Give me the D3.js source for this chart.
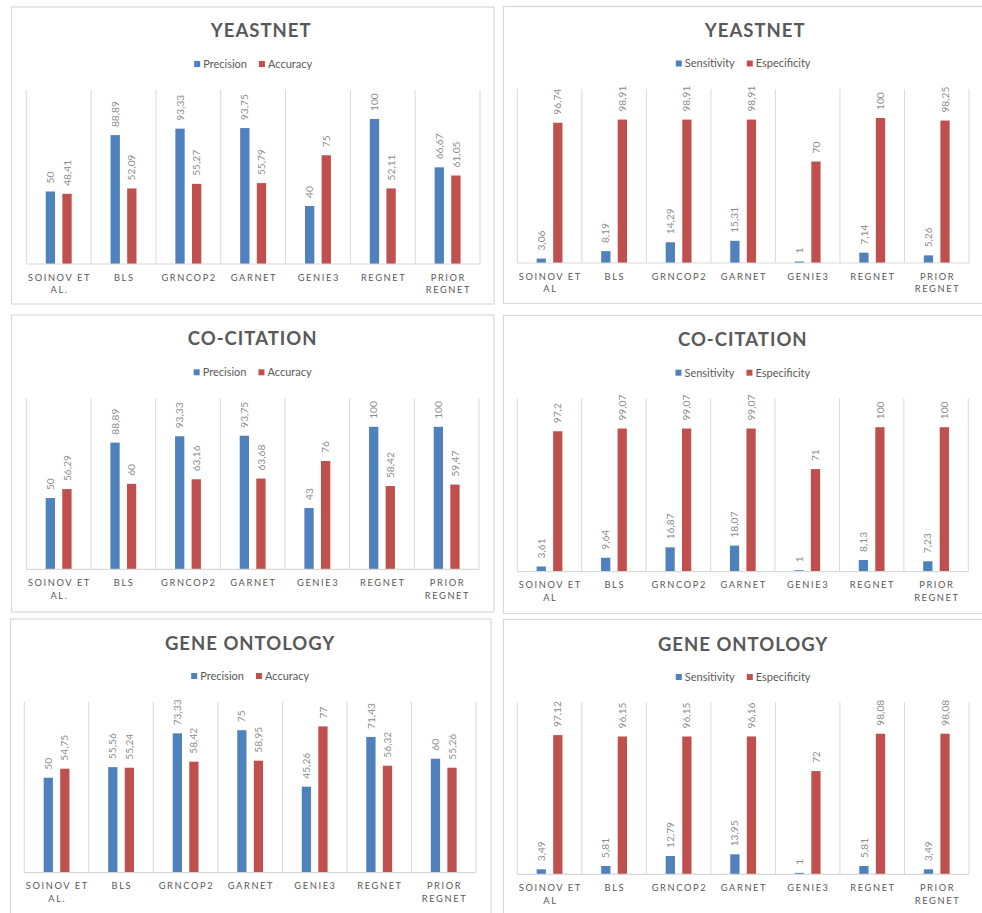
<!DOCTYPE html>
<html>
<head>
<meta charset="utf-8">
<script src="https://cdn.jsdelivr.net/npm/d3@7"></script>
<style>
  html, body { margin: 0; padding: 0; background: #ffffff; }
  svg { display: block; }
</style>
</head>
<body>
<svg id="chart" width="982" height="913"></svg>
<script>
// ---- data -------------------------------------------------------------
const categoriesLeft  = ["SOINOV ET\nAL.", "BLS", "GRNCOP2", "GARNET", "GENIE3", "REGNET", "PRIOR\nREGNET"];
const categoriesRight = ["SOINOV ET\nAL", "BLS", "GRNCOP2", "GARNET", "GENIE3", "REGNET", "PRIOR\nREGNET"];

const seriesLeft  = ["Precision", "Accuracy"];
const seriesRight = ["Sensitivity", "Especificity"];

const yeastPrecision   = [50, 88.89, 93.33, 93.75, 40, 100, 66.67];
const yeastAccuracy    = [48.41, 52.09, 55.27, 55.79, 75, 52.11, 61.05];
const yeastSensitivity = [3.06, 8.19, 14.29, 15.31, 1, 7.14, 5.26];
const yeastSpecificity = [96.74, 98.91, 98.91, 98.91, 70, 100, 98.25];

const coPrecision   = [50, 88.89, 93.33, 93.75, 43, 100, 100];
const coAccuracy    = [56.29, 60, 63.16, 63.68, 76, 58.42, 59.47];
const coSensitivity = [3.61, 9.64, 16.87, 18.07, 1, 8.13, 7.23];
const coSpecificity = [97.2, 99.07, 99.07, 99.07, 71, 100, 100];

const goPrecision   = [50, 55.56, 73.33, 75, 45.26, 71.43, 60];
const goAccuracy    = [54.75, 55.24, 58.42, 58.95, 77, 56.32, 55.26];
const goSensitivity = [3.49, 5.81, 12.79, 13.95, 1, 5.81, 3.49];
const goSpecificity = [97.12, 96.15, 96.15, 96.16, 72, 98.08, 98.08];

const titles  = ["YEASTNET", "YEASTNET", "CO-CITATION", "CO-CITATION", "GENE ONTOLOGY", "GENE ONTOLOGY"];
const axisMax = [120, 120, 120, 120, 90, 120];

// ---- panel layout -------------------------------------------------------
const colors = ["#4f81bd", "#c0504d"];
const panels = [
  { box: [11.5, 7, 482.5, 297],   plot: [26.3, 90, 453.7, 174],    titleY: 37,    legendY: 64,    titleDx: 8,
    cats: categoriesLeft,  series: seriesLeft,  values: [yeastPrecision, yeastAccuracy] },
  { box: [503.5, 6.5, 490, 297],  plot: [517.3, 89, 451.7, 174],   titleY: 37,    legendY: 63.5,  titleDx: 12,
    cats: categoriesRight, series: seriesRight, values: [yeastSensitivity, yeastSpecificity] },
  { box: [11.5, 315, 482.5, 297], plot: [26.3, 398.3, 452.7, 171], titleY: 345,   legendY: 372.3, titleDx: 0,
    cats: categoriesLeft,  series: seriesLeft,  values: [coPrecision, coAccuracy] },
  { box: [503.5, 315.5, 490, 298],plot: [517.3, 398.3, 451, 173.4],titleY: 345.7, legendY: 372.7, titleDx: 0,
    cats: categoriesRight, series: seriesRight, values: [coSensitivity, coSpecificity] },
  { box: [10.5, 619, 480.5, 300], plot: [24.3, 701.7, 451.7, 171], titleY: 649.5, legendY: 676,   titleDx: 0,
    cats: categoriesLeft,  series: seriesLeft,  values: [goPrecision, goAccuracy] },
  { box: [503.5, 619.5, 490, 300],plot: [517.3, 702.3, 451.7, 172],titleY: 650.5, legendY: 677,   titleDx: 0,
    cats: categoriesRight, series: seriesRight, values: [goSensitivity, goSpecificity] }
];

const svg = d3.select("#chart");
const fmt = v => String(v).replace(".", ",");
const FONT = "Lato, 'Open Sans', sans-serif";
const CAT_SPACING = 1.6;

panels.forEach((p, i) => {
  const [bx, by, bw, bh] = p.box;
  const [px, py, pw, ph] = p.plot;
  const g = svg.append("g");

  // frame
  g.append("rect")
    .attr("x", bx).attr("y", by).attr("width", bw).attr("height", bh)
    .attr("fill", "#ffffff").attr("stroke", "#d9d9d9").attr("stroke-width", 1.2);

  const x0 = d3.scaleBand().domain(d3.range(p.cats.length)).range([px, px + pw]).padding(0);
  const bwid = x0.bandwidth();
  const x1 = d3.scaleBand().domain(d3.range(p.series.length))
    .range([bwid * 0.3, bwid * 0.7]).paddingInner(0.44).paddingOuter(0);
  const y = d3.scaleLinear().domain([0, axisMax[i]]).range([py + ph, py]);

  // category dividers
  const edges = d3.range(p.cats.length + 1).map(k => px + k * bwid);
  g.selectAll("line.div").data(edges).join("line")
    .attr("x1", d => d).attr("x2", d => d)
    .attr("y1", y(axisMax[i])).attr("y2", y(0))
    .attr("stroke", "#d9d9d9").attr("stroke-width", 1);

  // bars
  p.values.forEach((vals, s) => {
    g.selectAll("rect.s" + s).data(vals).join("rect")
      .attr("x", (d, k) => x0(k) + x1(s))
      .attr("width", x1.bandwidth())
      .attr("y", d => y(d))
      .attr("height", d => y(0) - y(d))
      .attr("fill", colors[s]);

    // value labels, rotated
    g.selectAll("text.v" + s).data(vals).join("text")
      .attr("transform", (d, k) => {
        const cx = x0(k) + x1(s) + x1.bandwidth() / 2 + 3.6;
        return `translate(${cx},${y(d) - 8}) rotate(-90)`;
      })
      .attr("text-anchor", "start")
      .attr("font-family", FONT)
      .attr("font-size", 10.2)
      .attr("fill", "#8c8c8c")
      .text(d => fmt(d));
  });

  // baseline
  g.append("line")
    .attr("x1", px).attr("x2", px + pw)
    .attr("y1", y(0)).attr("y2", y(0))
    .attr("stroke", "#d9d9d9").attr("stroke-width", 1.2);

  // category labels
  const axis = d3.axisBottom(x0).tickSize(0).tickPadding(0).tickFormat("");
  const ax = g.append("g").attr("transform", `translate(0,${y(0)})`).call(axis);
  ax.select(".domain").remove();
  ax.selectAll(".tick").each(function(k) {
    const lines = p.cats[k].split("\n");
    const t = d3.select(this).append("text")
      .attr("text-anchor", "middle")
      .attr("font-family", FONT)
      .attr("font-size", 9.3)
      .attr("letter-spacing", CAT_SPACING + "px")
      .attr("fill", "#595959");
    lines.forEach((ln, j) => {
      t.append("tspan").attr("x", CAT_SPACING / 2).attr("y", 16.7 + j * 12.6).text(ln);
    });
  });

  // title
  g.append("text")
    .attr("x", px + pw / 2 + p.titleDx)
    .attr("y", p.titleY)
    .attr("text-anchor", "middle")
    .attr("font-family", FONT)
    .attr("font-weight", "bold")
    .attr("font-size", 18.5)
    .attr("letter-spacing", "1px")
    .attr("fill", "#595959")
    .text(titles[i]);

  // legend
  const leg = g.append("g");
  let cx = 0;
  p.series.forEach((name, s) => {
    const item = leg.append("g").attr("transform", `translate(${cx},0)`);
    item.append("rect").attr("x", 0).attr("y", -3).attr("width", 6).attr("height", 6).attr("fill", colors[s]);
    const t = item.append("text").attr("x", 9).attr("y", 3.8)
      .attr("font-family", FONT).attr("font-size", 11).attr("fill", "#595959").text(name);
    cx += 9 + t.node().getComputedTextLength() + 12;
  });
  const legW = cx - 12;
  leg.attr("transform", `translate(${px + pw / 2 - legW / 2},${p.legendY})`);
});
</script>
</body>
</html>
